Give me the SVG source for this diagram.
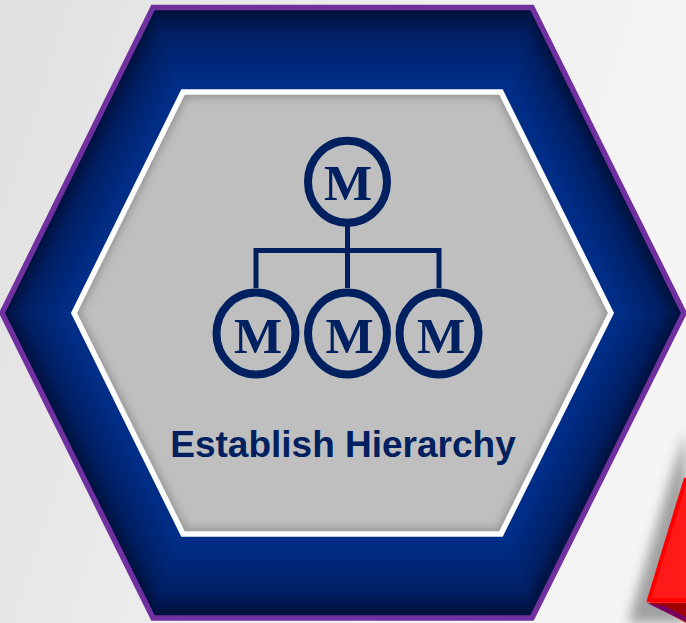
<svg xmlns="http://www.w3.org/2000/svg" width="686" height="623" viewBox="0 0 686 623">
<style>
.ring{fill:none;stroke:#002060;stroke-width:8}
.m{font-family:"Liberation Serif",serif;font-weight:bold;font-size:51px;fill:#002060;text-anchor:middle}
.wire{fill:none;stroke:#002060;stroke-width:5}
.s0{stop-color:#000f38}
.s1{stop-color:#001f63}
.s2{stop-color:#002d86}
</style>
<defs>
<linearGradient id="bg" x1="0" y1="0" x2="1" y2="0.3"><stop offset="0" stop-color="#e0e0e0"/><stop offset="0.55" stop-color="#eeeeee"/><stop offset="1" stop-color="#f5f5f5"/></linearGradient>
<linearGradient id="gb"><stop offset="0" class="s0"/><stop offset="0.3" class="s1"/><stop offset="0.85" class="s2"/></linearGradient>
<linearGradient id="gT" href="#gb" gradientUnits="userSpaceOnUse" x1="342" y1="9" x2="342" y2="92"/>
<linearGradient id="gB" href="#gb" gradientUnits="userSpaceOnUse" x1="342" y1="616" x2="342" y2="534"/>
<linearGradient id="gTL" href="#gb" gradientUnits="userSpaceOnUse" x1="77.5" y1="160" x2="135.3" y2="188.6"/>
<linearGradient id="gTR" href="#gb" gradientUnits="userSpaceOnUse" x1="608" y1="160" x2="550.2" y2="188.6"/>
<linearGradient id="gBL" href="#gb" gradientUnits="userSpaceOnUse" x1="77.5" y1="465.5" x2="135.3" y2="436.9"/>
<linearGradient id="gBR" href="#gb" gradientUnits="userSpaceOnUse" x1="608" y1="465.5" x2="550.2" y2="436.9"/>
<clipPath id="innerClip"><polygon points="183,92 501,92 611,313 501,534 183,534 74,313"/></clipPath>
<filter id="b4" filterUnits="userSpaceOnUse" x="0" y="0" width="686" height="623"><feGaussianBlur stdDeviation="5"/></filter>
<filter id="b6" x="-50%" y="-20%" width="200%" height="140%"><feGaussianBlur stdDeviation="6"/></filter>
</defs>
<rect width="686" height="623" fill="url(#bg)"/>
<g id="arrow-fragment">
<polygon points="628,623 670,480 686,430 686,623" fill="#a0a0a0" filter="url(#b6)"/>
<polygon points="647,601 686,478 686,623" fill="#ff1a1a"/>
<polygon points="649,603 686,603 686,622" fill="#a00000"/>
<polygon points="647,603 665,606 686,617 686,622" fill="#7a0060"/>
<path d="M686,478 L649,600 L686,600" fill="none" stroke="#ff0000" stroke-width="4"/>
</g>
<g id="outer-hexagon">
<polygon points="153,7.5 532,7.5 684,313 532,618 153,618 2,313" fill="#001f63"/>
<polygon points="153,7.5 532,7.5 501,92 183,92" fill="url(#gT)"/>
<polygon points="153,618 532,618 501,534 183,534" fill="url(#gB)"/>
<polygon points="2,313 153,7.5 183,92 74,313" fill="url(#gTL)"/>
<polygon points="684,313 532,7.5 501,92 611,313" fill="url(#gTR)"/>
<polygon points="2,313 153,618 183,534 74,313" fill="url(#gBL)"/>
<polygon points="684,313 532,618 501,534 611,313" fill="url(#gBR)"/>
<polygon points="153,7.5 532,7.5 684,313 532,618 153,618 2,313" fill="none" stroke="#7030a0" stroke-width="5.5" stroke-linejoin="miter"/>
</g>
<g id="inner-hexagon">
<polygon points="183,92 501,92 611,313 501,534 183,534 74,313" fill="#bfbfbf"/>
<g clip-path="url(#innerClip)">
<polygon points="183,92 501,92 611,313 501,534 183,534 74,313" fill="none" stroke="#8a8a8a" stroke-width="9" filter="url(#b4)"/>
</g>
<polygon points="183,92 501,92 611,313 501,534 183,534 74,313" fill="none" stroke="#ffffff" stroke-width="5.5"/>
</g>
<g id="connectors">
<path class="wire" d="M347.5,226 V288"/>
<path class="wire" d="M256,288 V250.5 H439 V288"/>
</g>
<g id="node-top"><ellipse class="ring" cx="347.5" cy="181.7" rx="39.5" ry="41"/><text class="m" x="348" y="199.5">M</text></g>
<g id="node-left"><ellipse class="ring" cx="256" cy="333.5" rx="39.5" ry="41"/><text class="m" x="258" y="352.7">M</text></g>
<g id="node-middle"><ellipse class="ring" cx="347.5" cy="333.5" rx="39.5" ry="41"/><text class="m" x="349.5" y="352.7">M</text></g>
<g id="node-right"><ellipse class="ring" cx="439" cy="333.5" rx="39.5" ry="41"/><text class="m" x="441" y="352.7">M</text></g>
<g id="label"><text x="343" y="457" font-family="'Liberation Sans',Arial,sans-serif" font-weight="bold" font-size="37px" fill="#002060" text-anchor="middle">Establish Hierarchy</text></g>
</svg>
